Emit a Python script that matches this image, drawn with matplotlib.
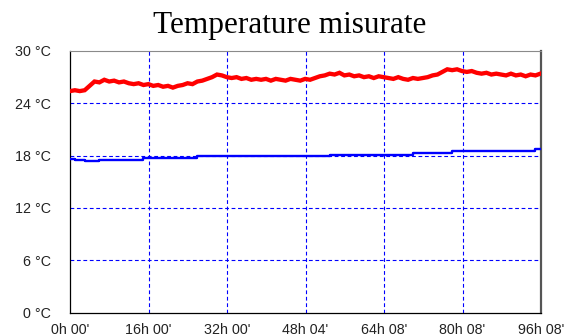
import matplotlib
matplotlib.use("Agg")
import matplotlib.pyplot as plt

# Measured temperatures, one reading per hour (°C)
hours_red = list(range(97))
temp_red = [
    25.4, 25.5, 25.4, 25.5, 26.0, 26.5, 26.4, 26.7, 26.5, 26.6,
    26.4, 26.5, 26.3, 26.2, 26.3, 26.1, 26.2, 26.0, 26.1, 25.9,
    26.0, 25.8, 26.0, 26.1, 26.3, 26.2, 26.5, 26.6, 26.8, 27.0,
    27.3, 27.2, 27.0, 26.9, 27.0, 26.8, 26.9, 26.7, 26.8, 26.7,
    26.8, 26.6, 26.8, 26.7, 26.6, 26.8, 26.7, 26.6, 26.8, 26.7,
    26.9, 27.1, 27.2, 27.4, 27.3, 27.5, 27.2, 27.3, 27.1, 27.2,
    27.0, 27.1, 26.9, 27.1, 27.0, 26.9, 26.8, 27.0, 26.8, 26.7,
    26.9, 26.8, 26.9, 27.0, 27.2, 27.3, 27.6, 27.9, 27.8, 27.9,
    27.7, 27.6, 27.7, 27.5, 27.4, 27.5, 27.3, 27.4, 27.3, 27.2,
    27.4, 27.2, 27.3, 27.1, 27.3, 27.2, 27.4,
]

# Second probe: slowly rising, stepwise readings
hours_blue = [0, 1, 3, 6, 15, 26, 37, 53, 70, 78, 93, 95, 96.13]
temp_blue = [17.6, 17.5, 17.4, 17.5, 17.7, 17.9, 18.0, 18.1, 18.3, 18.5, 18.5, 18.7, 18.7]

total_hours = 96 + 8 / 60
x_tick_labels = ["0h 00'", "16h 00'", "32h 00'", "48h 04'", "64h 08'", "80h 08'", "96h 08'"]
y_ticks = [0, 6, 12, 18, 24, 30]
y_tick_labels = [f"{v} °C" for v in y_ticks]

W, H = 587, 336
fig = plt.figure(figsize=(W / 100, H / 100), dpi=100)
ax = fig.add_axes([70 / W, 1 - 312.5 / H, (541 - 70) / W, (312.5 - 51) / H])

ax.set_xlim(0, total_hours)
ax.set_ylim(0, 30)

x_ticks = [total_hours * i / 6 for i in range(7)]
ax.set_xticks(x_ticks)
ax.set_xticklabels(x_tick_labels)
ax.set_yticks(y_ticks)
ax.set_yticklabels(y_tick_labels)

for lbl in ax.get_xticklabels() + ax.get_yticklabels():
    lbl.set_fontfamily("Liberation Sans")
    lbl.set_fontsize(10.3)
    lbl.set_color("#222222")
ax.tick_params(axis="both", length=0)
ax.tick_params(axis="y", pad=13.5)
ax.tick_params(axis="x", pad=7.5)

# dashed blue grid
for yv in y_ticks[1:-1]:
    ax.axhline(yv, color="#0000ff", lw=0.8, dashes=(3.4, 2.4), zorder=1)
for xv in x_ticks[1:-1]:
    ax.axvline(xv, color="#0000ff", lw=0.8, dashes=(3.4, 2.4), zorder=1)

ax.plot(hours_red, temp_red, color="#ff0000", lw=3.1, zorder=3, solid_joinstyle="miter")
ax.plot(hours_blue, temp_blue, color="#0000ff", lw=1.7, drawstyle="steps-post", zorder=3)

ax.spines["left"].set_color("#000000")
ax.spines["left"].set_linewidth(0.9)
ax.spines["bottom"].set_color("#000000")
ax.spines["bottom"].set_linewidth(0.9)
ax.spines["right"].set_color("#555555")
ax.spines["right"].set_linewidth(1.6)
ax.spines["top"].set_color("#8a8a8a")
ax.spines["top"].set_linewidth(0.8)

fig.text(290 / W, 1 - 33 / H, "Temperature misurate", family="Liberation Serif",
         fontsize=22.5, ha="center", va="baseline", color="#000000")

fig.savefig("out.png", dpi=100)
